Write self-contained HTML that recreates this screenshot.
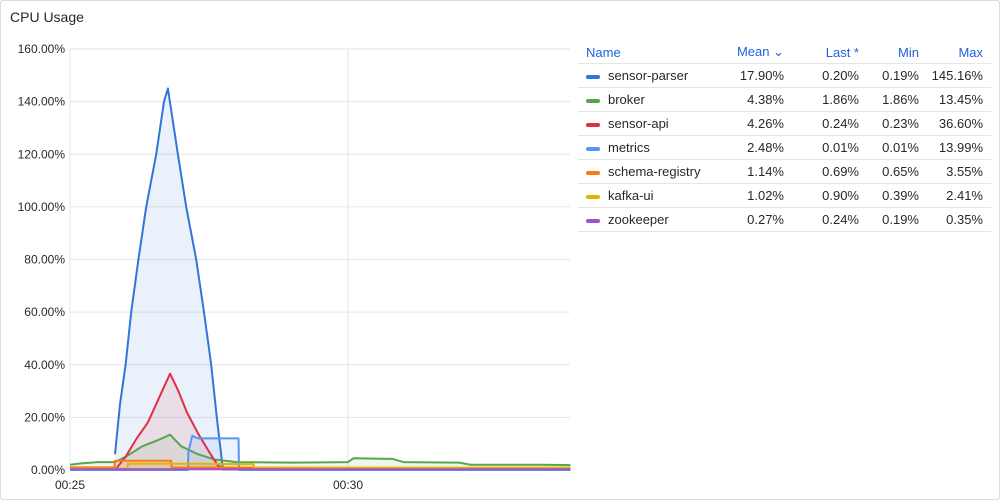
<!DOCTYPE html>
<html><head><meta charset="utf-8"><style>
body{margin:0;background:#fff;font-family:"Liberation Sans",sans-serif;}
#panel{position:absolute;left:0;top:0;width:998px;height:498px;border:1px solid #dcdde1;border-radius:3px;}
#title{position:absolute;left:9px;top:8px;font-size:14px;font-weight:500;color:#24292e;}
table{position:absolute;left:577px;top:40px;width:413px;table-layout:fixed;border-collapse:collapse;font-size:13px;color:#24292e;}
th{color:#1f62e0;font-weight:normal;text-align:right;height:22px;padding:0 8px 0 0;border-bottom:1px solid #e4e5e8;}
td{text-align:right;height:23px;padding:0 8px 0 0;border-bottom:1px solid #e4e5e8;white-space:nowrap;}
th.n,td.n{text-align:left;padding-left:8px;}
.sw{display:inline-block;width:14px;height:4px;border-radius:2px;vertical-align:middle;margin-right:8px;}
</style></head><body>
<div id="panel">
<div id="title">CPU Usage</div>
<svg id="chart" width="575" height="500" style="position:absolute;left:0;top:0"></svg>
<table>
<colgroup><col style="width:138px"><col style="width:76px"><col style="width:75px"><col style="width:60px"><col style="width:64px"></colgroup>
<tr><th class="n">Name</th><th>Mean ⌄</th><th>Last *</th><th>Min</th><th>Max</th></tr>
<tr><td class="n"><span class="sw" style="background:#3274d9"></span>sensor-parser</td><td>17.90%</td><td>0.20%</td><td>0.19%</td><td>145.16%</td></tr>
<tr><td class="n"><span class="sw" style="background:#56a64b"></span>broker</td><td>4.38%</td><td>1.86%</td><td>1.86%</td><td>13.45%</td></tr>
<tr><td class="n"><span class="sw" style="background:#e02f44"></span>sensor-api</td><td>4.26%</td><td>0.24%</td><td>0.23%</td><td>36.60%</td></tr>
<tr><td class="n"><span class="sw" style="background:#5794f2"></span>metrics</td><td>2.48%</td><td>0.01%</td><td>0.01%</td><td>13.99%</td></tr>
<tr><td class="n"><span class="sw" style="background:#ff780a"></span>schema-registry</td><td>1.14%</td><td>0.69%</td><td>0.65%</td><td>3.55%</td></tr>
<tr><td class="n"><span class="sw" style="background:#e0b400"></span>kafka-ui</td><td>1.02%</td><td>0.90%</td><td>0.39%</td><td>2.41%</td></tr>
<tr><td class="n"><span class="sw" style="background:#a352cc"></span>zookeeper</td><td>0.27%</td><td>0.24%</td><td>0.19%</td><td>0.35%</td></tr>
</table>
</div>
<script>
const yTicks=[0,20,40,60,80,100,120,140,160];
const xTicks=[0,5];
const xTickLabels=["00:25","00:30"];
// times in minutes after 00:25
const parserT=[0.81,0.9,1.0,1.1,1.23,1.37,1.55,1.69,1.76,1.94,2.09,2.27,2.41,2.54,2.64,2.75,9];
const parserV=[6,25,40,60,80,100,120,140,145,120,100,80,60,40,20,0.2,0.2];
const apiT=[0.81,1.0,1.2,1.4,1.55,1.7,1.8,1.95,2.1,2.3,2.5,2.65,2.75,9];
const apiV=[0,5,12,18,25,32,36.6,30,22,14,7,2,0.24,0.24];
const brokerT=[0,0.2,0.5,0.81,1.0,1.3,1.6,1.8,2.0,2.3,2.6,3.0,4.0,5.0,5.1,5.8,6.0,7.0,7.2,8.5,9];
const brokerV=[2,2.5,3,3,5,9,11.5,13.4,9,6,4,3,2.8,3,4.5,4.2,3,2.8,2,2,1.86];
const metricsT=[0,2.12,2.13,2.2,2.3,2.5,3.03,3.04,9];
const metricsV=[0,0,7,13,12,12,12,0.01,0.01];
const schemaT=[0,0.8,0.81,1.82,1.83,9];
const schemaV=[1,1,3.5,3.5,1,0.7];
const kafkaT=[0,1.03,1.04,2.3,3.3,3.31,9];
const kafkaV=[0.5,0.5,2.4,2.4,2.2,0.9,0.9];
const zooT=[0,9];
const zooV=[0.3,0.27];
const series=[
 {n:"sensor-parser",c:"#3274d9",t:parserT,v:parserV},
 {n:"broker",c:"#56a64b",t:brokerT,v:brokerV},
 {n:"sensor-api",c:"#e02f44",t:apiT,v:apiV},
 {n:"metrics",c:"#5794f2",t:metricsT,v:metricsV},
 {n:"schema-registry",c:"#ff780a",t:schemaT,v:schemaV},
 {n:"kafka-ui",c:"#e0b400",t:kafkaT,v:kafkaV},
 {n:"zookeeper",c:"#a352cc",t:zooT,v:zooV}];
const X0=69,X1=569,Y0=469,Y1=48;
const x=t=>X0+t*(347-X0)/5;
const y=v=>Y0-v*(Y0-Y1)/160;
const svg=document.getElementById('chart');
const NS="http://www.w3.org/2000/svg";
function mk(tag,at){const e=document.createElementNS(NS,tag);for(const k in at)e.setAttribute(k,at[k]);svg.appendChild(e);return e;}
yTicks.forEach(v=>{
 const g=mk('line',{x1:X0,x2:X1,y1:y(v),y2:y(v),stroke:'#e6e6e6'});
 
 
 const l=mk('text',{x:64,y:y(v)+4,'text-anchor':'end','font-size':12,fill:'#24292e','font-family':'Liberation Sans'});
 l.textContent=v.toFixed(2)+'%';
 
 
});
xTicks.forEach((t,i)=>{
 const g=mk('line',{x1:x(t),x2:x(t),y1:Y1,y2:Y0,stroke:'#e6e6e6'});
 
 
 const l=mk('text',{x:x(t),y:488,'text-anchor':'middle','font-size':12,fill:'#24292e','font-family':'Liberation Sans'});
 l.textContent=xTickLabels[i];
 
 
});
series.forEach(s=>{
 const pts=s.t.map((t,i)=>x(t).toFixed(1)+','+y(s.v[i]).toFixed(1));
 const a=mk('polygon',{points:x(s.t[0])+','+Y0+' '+pts.join(' ')+' '+x(s.t[s.t.length-1])+','+Y0,fill:s.c,'fill-opacity':0.1});
 
 
});
series.forEach(s=>{
 const pts=s.t.map((t,i)=>x(t).toFixed(1)+','+y(s.v[i]).toFixed(1));
 const p=mk('polyline',{points:pts.join(' '),fill:'none',stroke:s.c,'stroke-width':2,'stroke-linejoin':'round'});
 
 
});
</script>
</body></html>
